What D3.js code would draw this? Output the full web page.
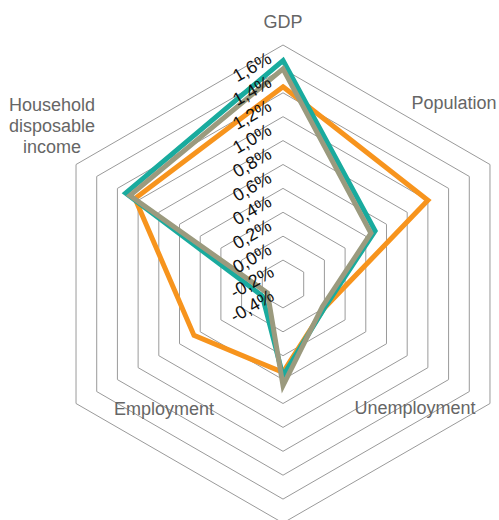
<!DOCTYPE html>
<html>
<head>
<meta charset="utf-8">
<script src="https://cdn.jsdelivr.net/npm/d3@7"></script>
<style>
  body { margin: 0; background: #fff; }
  svg { display: block; font-family: "Liberation Sans", Arial, sans-serif; }
</style>
</head>
<body>
<svg id="chart"></svg>
<script>
  // axes, clockwise from the top
  const axes = ["GDP", "Population", "Unemployment", "", "Employment", "Household disposable income"];
  const tickValues = [-0.4, -0.2, 0.0, 0.2, 0.4, 0.6, 0.8, 1.0, 1.2, 1.4, 1.6];

  // series values (in %), same order as axes
  const orangeValues = [1.25, 1.00, 0.00, 0.34, 0.46, 1.03];
  const tealValues   = [1.47, 0.49, 0.00, 0.37, -0.20, 1.12];
  const greyValues   = [1.40, 0.45, -0.02, 0.45, -0.25, 1.08];

  const series = [
    { name: "orange", color: "#f7941d", values: orangeValues },
    { name: "teal",   color: "#19ab9e", values: tealValues },
    { name: "grey",   color: "#9b9a7e", values: greyValues }
  ];

  const width = 499;
  const height = 520;
  const cx = 283, cy = 284, R = 239;

  // label placement relative to each outer vertex
  const labelOffsets = [
    { dx: 0, dy: -17 },
    { dx: -36, dy: -56 },
    { dx: -75, dy: 10 },
    { dx: 0, dy: 0 },
    { dx: 88, dy: 11 },
    { dx: -24, dy: -54 }
  ];
  const labelLines = { "Household disposable income": ["Household", "disposable", "income"] };

  const svg = d3.select("#chart")
      .attr("width", width)
      .attr("height", height);

  const g = svg.append("g")
      .attr("transform", `translate(${cx},${cy})`);

  const r = d3.scaleLinear()
      .domain([-0.4, 1.6])
      .range([0, R]);

  const step = 2 * Math.PI / axes.length;
  const angle = i => i * step;

  const radial = d3.lineRadial()
      .angle((d, i) => angle(i))
      .radius(d => r(d))
      .curve(d3.curveLinearClosed);

  //grid rings
  g.append("g")
      .attr("class", "grid")
    .selectAll("path")
    .data(tickValues.filter(v => r(v) > 0))
    .enter()
    .append("path")
      .attr("d", v => radial(axes.map(() => v)))
      .attr("fill", "none")
      .attr("stroke", "#9a9a9a")
      .attr("stroke-width", 1);

  //series lines
  g.append("g")
      .attr("class", "series")
    .selectAll("path")
    .data(series)
    .enter()
    .append("path")
      .attr("d", d => radial(d.values))
      .attr("fill", "none")
      .attr("stroke", d => d.color)
      .attr("stroke-width", 5)
      .attr("stroke-linejoin", "miter");

  //tick labels along the top axis
  const locale = d3.formatLocale({ decimal: ",", thousands: ".", grouping: [3], currency: ["", "€"], minus: "-" });
  const fmt = locale.format(".1f");

  g.append("g")
      .attr("class", "ticks")
    .selectAll("text")
    .data(tickValues)
    .enter()
    .append("text")
      .attr("transform", v => `translate(-31,${-r(v) + 22}) rotate(-30)`)
      .attr("text-anchor", "middle")
      .attr("dominant-baseline", "central")
      .style("font-size", "18px")
      .attr("fill", "#111")
      .text(v => fmt(v) + "%");

  //axis labels
  const labels = g.append("g")
      .attr("class", "axis-labels")
    .selectAll("text")
    .data(axes.map((name, i) => ({ name, i })).filter(d => d.name))
    .enter()
    .append("text")
      .attr("x", d => R * Math.sin(angle(d.i)) + labelOffsets[d.i].dx)
      .attr("y", d => -R * Math.cos(angle(d.i)) + labelOffsets[d.i].dy)
      .attr("text-anchor", "middle")
      .attr("fill", "#666")
      .style("font-size", "18px");

  labels.each(function(d) {
    const lines = labelLines[d.name] || [d.name];
    const x = R * Math.sin(angle(d.i)) + labelOffsets[d.i].dx;
    d3.select(this).selectAll("tspan")
      .data(lines)
      .enter()
      .append("tspan")
        .attr("x", x)
        .attr("dy", (l, k) => k === 0 ? 0 : 21)
        .text(l => l);
  });
</script>
</body>
</html>
